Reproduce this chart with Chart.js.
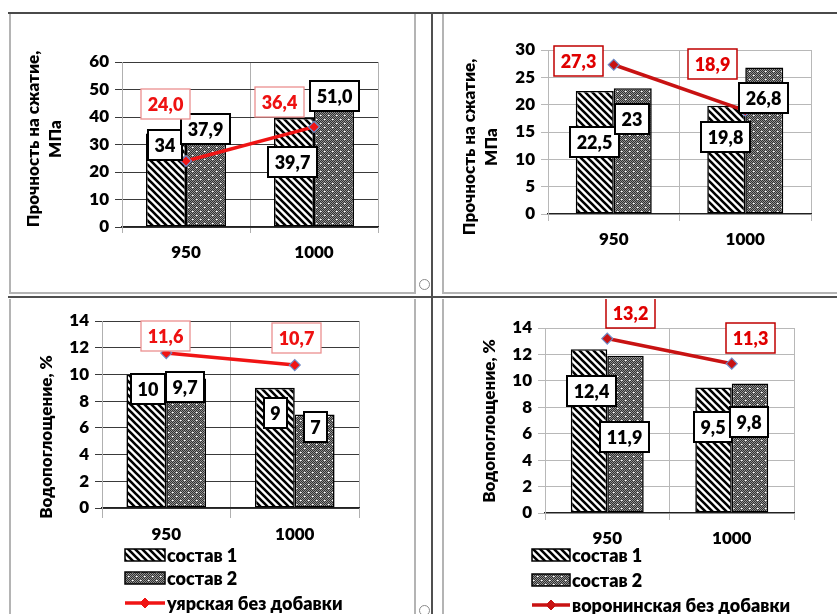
<!DOCTYPE html>
<html>
<head>
<meta charset="utf-8">
<script src="https://cdn.jsdelivr.net/npm/chart.js@4/dist/chart.umd.min.js"></script>
<style>
  html, body { margin: 0; padding: 0; background: #fff; }
  body { width: 837px; height: 614px; position: relative; overflow: hidden; }
  canvas { position: absolute; }
  .rule { position: absolute; }
  .handle { position: absolute; width: 9px; height: 9px; border: 1px solid #8a8a8a; border-radius: 50%; background: #fff; }
</style>
</head>
<body>
<!-- table frame -->
<div class="rule" style="left:8px;top:12px;width:829px;height:2px;background:#4a4a4a"></div>
<div class="rule" style="left:431px;top:12px;width:2px;height:602px;background:#505050"></div>
<div class="rule" style="left:8px;top:296px;width:829px;height:2px;background:#505050"></div>
<!-- cell borders -->
<div class="rule" style="left:9px;top:14px;width:2px;height:279px;background:#b4b4b4"></div>
<div class="rule" style="left:414px;top:14px;width:2px;height:279px;background:#b4b4b4"></div>
<div class="rule" style="left:9px;top:292px;width:407px;height:2px;background:#b4b4b4"></div>
<div class="rule" style="left:442px;top:14px;width:2px;height:279px;background:#b4b4b4"></div>
<div class="rule" style="left:442px;top:292px;width:395px;height:2px;background:#b4b4b4"></div>
<div class="rule" style="left:9px;top:299px;width:2px;height:315px;background:#b4b4b4"></div>
<div class="rule" style="left:414px;top:299px;width:2px;height:315px;background:#b4b4b4"></div>
<div class="rule" style="left:442px;top:299px;width:2px;height:315px;background:#b4b4b4"></div>
<div class="handle" style="left:419px;top:279px"></div>
<div class="handle" style="left:419px;top:605px"></div>

<canvas id="tl"></canvas>
<canvas id="tr"></canvas>
<canvas id="bl"></canvas>
<canvas id="br"></canvas>

<script>
// ---- data ----
const categories = ['950', '1000'];

// compressive strength, MPa (уярская clay)
const strengthUyar1 = [34, 39.7];
const strengthUyar2 = [37.9, 51.0];
const strengthUyarBase = [24.0, 36.4];
// compressive strength, MPa (воронинская clay)
const strengthVor1 = [22.5, 19.8];
const strengthVor2 = [23, 26.8];
const strengthVorBase = [27.3, 18.9];
// water absorption, % (уярская clay)
const absorbUyar1 = [10, 9];
const absorbUyar2 = [9.7, 7];
const absorbUyarBase = [11.6, 10.7];
// water absorption, % (воронинская clay)
const absorbVor1 = [12.4, 9.5];
const absorbVor2 = [11.9, 9.8];
const absorbVorBase = [13.2, 11.3];

// y-axis tick labels
const strengthUyarTicks = [0, 10, 20, 30, 40, 50, 60];
const strengthVorTicks = [0, 5, 10, 15, 20, 25, 30];
const absorbTicks = [0, 2, 4, 6, 8, 10, 12, 14];

const seriesNames = ['состав 1', 'состав 2'];
const baseNameUyar = 'уярская без добавки';
const baseNameVor = 'воронинская без добавки';
const strengthTitle = ['Прочность на сжатие,', 'МПа'];
const absorbTitle = ['Водопоглощение, %'];

// ---- drawing ----
const FAMILY = "Lato, 'Open Sans', 'DejaVu Sans', sans-serif";
const WEIGHT = '800';
Chart.defaults.font.family = FAMILY;
Chart.defaults.font.weight = WEIGHT;
Chart.defaults.color = '#000';

function makeHatch() {
  const s = 7, c = document.createElement('canvas');
  c.width = c.height = s;
  const g = c.getContext('2d');
  g.fillStyle = '#fff'; g.fillRect(0, 0, s, s);
  g.strokeStyle = '#000'; g.lineWidth = 2.6;
  g.beginPath();
  for (let k = -1; k <= 1; k++) { g.moveTo(k * s - 1, -1); g.lineTo(k * s + s + 1, s + 1); }
  g.stroke();
  return g.createPattern(c, 'repeat');
}
function makeDots() {
  const s = 8, c = document.createElement('canvas');
  c.width = c.height = s;
  const g = c.getContext('2d');
  for (let y = 0; y < s; y++) for (let x = 0; x < s; x++) {
    g.fillStyle = (x + y) % 2 ? '#909090' : '#303030';
    g.fillRect(x, y, 1, 1);
  }
  g.fillStyle = '#fff';
  g.fillRect(1, 1, 1, 1); g.fillRect(5, 5, 1, 1);
  g.fillStyle = '#d8d8d8';
  g.fillRect(2, 1, 1, 1); g.fillRect(6, 5, 1, 1);
  return g.createPattern(c, 'repeat');
}
const HATCH = makeHatch();
const DOTS = makeDots();

function fmt(v, dec) {
  return (dec == null ? String(v) : v.toFixed(dec)).replace('.', ',');
}

const BLACK_BOX = { ink: '#000', frame: '#000', frameW: 2 };

const panels = [
  {
    id: 'tl', box: [11, 14, 403, 278], plot: [122, 62, 378, 227],
    s1: strengthUyar1, s2: strengthUyar2, base: strengthUyarBase, baseName: baseNameUyar,
    ticks: strengthUyarTicks, title: strengthTitle, titleX: [33.5, 56], titleY: 139,
    catPct: 0.625, red: '#f01414', hgrid: '#3a3a3a', vgrid: '#b0b0b0', xTick: 6, xPad: 9,
    decimals: [null, 1, 1],
    redBox: { ink: '#ee1111', frame: '#ec9090', frameW: 1.3 },
    offsets: [[[-1.5, 11.5], [-2, 44]], [[-1, 6], [0.5, 9]], [[-20.5, -57], [-34.5, -24.5]]]
  },
  {
    id: 'tr', box: [444, 14, 388, 278], plot: [548, 50, 811, 214],
    s1: strengthVor1, s2: strengthVor2, base: strengthVorBase, baseName: baseNameVor,
    ticks: strengthVorTicks, title: strengthTitle, titleX: [470, 492], titleY: 147,
    catPct: 0.578, red: '#c81212', hgrid: '#b8b8b8', vgrid: '#b8b8b8', xTick: 7, xPad: 8,
    decimals: [null, null, null],
    redBox: { ink: '#e00000', frame: '#c00000', frameW: 1.5 },
    offsets: [[[0, 50.5], [-1, 31]], [[-1, 31], [-1, 30.5]], [[-35, -4], [-33, -47]]]
  },
  {
    id: 'bl', box: [11, 299, 403, 315], plot: [102, 321, 359, 508],
    s1: absorbUyar1, s2: absorbUyar2, base: absorbUyarBase, baseName: baseNameUyar,
    ticks: absorbTicks, title: absorbTitle, titleX: [47], titleY: 437,
    catPct: 0.62, red: '#f01414', hgrid: '#3a3a3a', vgrid: '#b0b0b0', xTick: 10, xPad: 6,
    decimals: [null, null, null],
    redBox: { ink: '#ee1111', frame: '#ec9090', frameW: 1.3 },
    offsets: [[[2, 15], [1, 25]], [[-1, 9], [1, 12.5]], [[-1, -17], [2, -27.5]]],
    legend: { x: 125, w: 40, textX: 167, rows: [555, 578, 603] }
  },
  {
    id: 'br', box: [444, 299, 388, 315], plot: [545, 328, 794, 513],
    s1: absorbVor1, s2: absorbVor2, base: absorbVorBase, baseName: baseNameVor,
    ticks: absorbTicks, title: absorbTitle, titleX: [490], titleY: 421,
    catPct: 0.586, red: '#c81212', hgrid: '#b8b8b8', vgrid: '#b8b8b8', xTick: 7, xPad: 8,
    decimals: [null, null, null],
    redBox: { ink: '#e00000', frame: '#c00000', frameW: 1.5 },
    offsets: [[[2, 42], [-1, 39.5]], [[-1, 81], [-1, 38.5]], [[23, -25.5], [19, -25.5]]],
    legend: { x: 532, w: 38, textX: 572, rows: [555, 580, 605] }
  }
];

function drawDiamond(ctx, x, y, r, fill, edge) {
  ctx.beginPath();
  ctx.moveTo(x - r, y); ctx.lineTo(x, y - r); ctx.lineTo(x + r, y); ctx.lineTo(x, y + r);
  ctx.closePath();
  ctx.fillStyle = fill; ctx.fill();
  ctx.strokeStyle = edge; ctx.lineWidth = 1; ctx.stroke();
}

function build(p) {
  const cv = document.getElementById(p.id);
  const [bx, by, bw, bh] = p.box;
  cv.width = bw; cv.height = bh;
  cv.style.left = bx + 'px'; cv.style.top = by + 'px';
  const L = p.plot[0] - bx, T = p.plot[1] - by, R = p.plot[2] - bx, B = p.plot[3] - by;
  const yMax = p.ticks[p.ticks.length - 1];
  const step = p.ticks[1] - p.ticks[0];

  const panelText = {
    id: 'panelText_' + p.id,
    afterDatasetsDraw(chart) {
      const ctx = chart.ctx;
      ctx.save();
      ctx.font = WEIGHT + ' 18px ' + FAMILY;
      ctx.textAlign = 'center';
      ctx.textBaseline = 'middle';
      chart.data.datasets.forEach((ds, di) => {
        const meta = chart.getDatasetMeta(di);
        const st = di === 2 ? p.redBox : BLACK_BOX;
        meta.data.forEach((el, j) => {
          const [dx, dy] = p.offsets[di][j];
          const cx = el.x + dx, cy = el.y + dy;
          const txt = fmt(ds.data[j], p.decimals[di]);
          const w = Math.round(ctx.measureText(txt).width + 13), h = 30;
          const x0 = Math.round(cx - w / 2), y0 = Math.round(cy - h / 2);
          ctx.fillStyle = '#fff';
          ctx.fillRect(x0, y0, w, h);
          ctx.strokeStyle = st.frame; ctx.lineWidth = st.frameW;
          ctx.strokeRect(x0, y0, w, h);
          ctx.fillStyle = st.ink;
          ctx.fillText(txt, x0 + w / 2, y0 + h / 2 + 1);
        });
      });
      ctx.restore();
    },
    afterDraw(chart) {
      const ctx = chart.ctx;
      ctx.save();
      // vertical axis title
      ctx.font = WEIGHT + ' 17px ' + FAMILY;
      ctx.fillStyle = '#000';
      ctx.textAlign = 'center';
      ctx.textBaseline = 'middle';
      p.title.forEach((line, i) => {
        ctx.save();
        ctx.translate(p.titleX[i] - bx, p.titleY - by);
        ctx.rotate(-Math.PI / 2);
        ctx.fillText(line, 0, 0);
        ctx.restore();
      });
      // legend
      if (p.legend) {
        const lg = p.legend;
        const x = lg.x - bx;
        ctx.font = WEIGHT + ' 18px ' + FAMILY;
        ctx.textAlign = 'left';
        [0, 1, 2].forEach((di, k) => {
          const ds = chart.data.datasets[di];
          const y = lg.rows[k] - by;
          if (ds.type === 'bar') {
            ctx.fillStyle = ds.backgroundColor;
            ctx.fillRect(x, y - 6, lg.w, 12);
            ctx.strokeStyle = '#000'; ctx.lineWidth = 1.5;
            ctx.strokeRect(x, y - 6, lg.w, 12);
          } else {
            ctx.strokeStyle = ds.borderColor; ctx.lineWidth = 3.5;
            ctx.beginPath(); ctx.moveTo(x, y); ctx.lineTo(x + lg.w, y); ctx.stroke();
            drawDiamond(ctx, x + lg.w / 2, y, 5, ds.borderColor, ds.borderColor);
          }
          ctx.fillStyle = '#000';
          ctx.fillText(ds.label, lg.textX - bx, y + 1);
        });
      }
      ctx.restore();
    }
  };

  const barCommon = {
    type: 'bar', borderColor: '#000', borderWidth: 1.6, borderSkipped: false,
    categoryPercentage: p.catPct, barPercentage: 1.0, order: 1
  };

  return new Chart(cv, {
    data: {
      labels: categories,
      datasets: [
        Object.assign({ label: seriesNames[0], data: p.s1, backgroundColor: HATCH }, barCommon),
        Object.assign({ label: seriesNames[1], data: p.s2, backgroundColor: DOTS }, barCommon),
        {
          type: 'line', label: p.baseName, data: p.base, order: 0,
          borderColor: p.red, borderWidth: 3.5, fill: false, tension: 0,
          pointStyle: 'rectRot', pointRadius: 5.5,
          pointBackgroundColor: p.red, pointBorderColor: '#6f8cc8', pointBorderWidth: 1.2
        }
      ]
    },
    options: {
      responsive: false,
      animation: false,
      events: [],
      layout: { padding: { left: 0, top: T, right: bw - R, bottom: 0 } },
      plugins: { legend: { display: false }, tooltip: { enabled: false }, title: { display: false } },
      scales: {
        x: {
          type: 'category', offset: true,
          grid: { offset: true, color: p.vgrid, lineWidth: 1, drawTicks: true, tickLength: p.xTick, tickColor: p.vgrid },
          border: { display: true, color: '#222', width: 1.3 },
          ticks: { font: { size: 17, weight: WEIGHT }, padding: p.xPad, color: '#000', maxRotation: 0, autoSkip: false },
          afterFit: s => { s.height = bh - B; }
        },
        y: {
          min: 0, max: yMax,
          afterBuildTicks: s => { s.ticks = p.ticks.map(v => ({ value: v })); },
          ticks: { stepSize: step, font: { size: 17, weight: WEIGHT }, padding: 6, color: '#000' },
          grid: { color: p.hgrid, lineWidth: 1, drawTicks: true, tickLength: 7, tickColor: p.hgrid },
          border: { display: true, color: p.vgrid, width: 1 },
          afterFit: s => { s.width = L; }
        }
      }
    },
    plugins: [panelText]
  });
}

panels.forEach(build);
</script>
</body>
</html>
